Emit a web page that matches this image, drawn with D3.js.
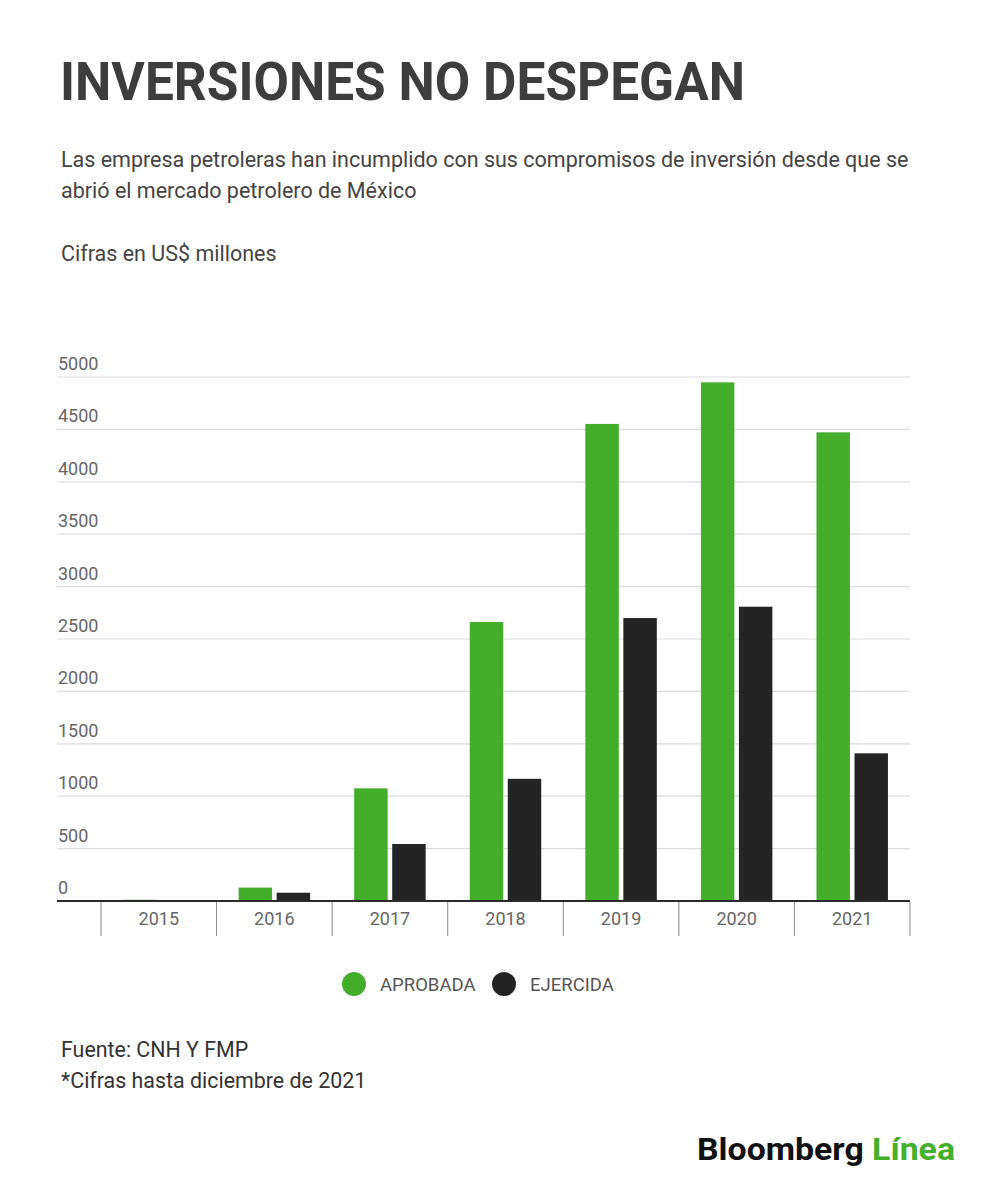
<!DOCTYPE html>
<html lang="es">
    <head>
        <meta charset="utf-8">
        <title>Inversiones no despegan</title>
        <script type="text/javascript" src="https://cdn.jsdelivr.net/npm/d3@7"></script>
        <style type="text/css">
            body { margin: 0; background: #fff; }
            text { font-family: Roboto, "Noto Sans", sans-serif; }
        </style>
    </head>
    <body>
        <script type="text/javascript">

            //data (US$ millones)
            var years = ["2015", "2016", "2017", "2018", "2019", "2020", "2021"];
            var aprobada = [12, 128, 1075, 2662, 4552, 4949, 4472];
            var ejercida = [2, 79, 544, 1166, 2700, 2808, 1409];
            var seriesNames = ["APROBADA", "EJERCIDA"];
            var yTicks = [0, 500, 1000, 1500, 2000, 2500, 3000, 3500, 4000, 4500, 5000];

            var colors = ["#44ad2c", "#242424"];

            var w = 1000;
            var h = 1194;

            var svg = d3.select("body")
                .append("svg")
                .attr("width", w)
                .attr("height", h);

            svg.append("rect")
                .attr("width", "100%")
                .attr("height", "100%")
                .attr("fill", "white");

            //headline + subtitles
            svg.append("text")
                .attr("x", 60)
                .attr("y", 100)
                .attr("font-size", "53px")
                .attr("font-weight", 700)
                .attr("fill", "#3d3d3d")
                .attr("textLength", 685)
                .attr("lengthAdjust", "spacingAndGlyphs")
                .text("INVERSIONES NO DESPEGAN");

            var sub = ["Las empresa petroleras han incumplido con sus compromisos de inversión desde que se",
                       "abrió el mercado petrolero de México"];
            svg.selectAll("text.sub")
                .data(sub)
                .enter()
                .append("text")
                .attr("class", "sub")
                .attr("x", 61)
                .attr("y", function(d, i) { return 167 + i * 31; })
                .attr("font-size", "21.5px")
                .attr("fill", "#444")
                .text(function(d) { return d; });

            svg.append("text")
                .attr("x", 61)
                .attr("y", 261)
                .attr("font-size", "21.5px")
                .attr("fill", "#444")
                .text("Cifras en US$ millones");

            //scales
            var left = 57, plotLeft = 101, plotRight = 910;
            var yScale = d3.scaleLinear()
                .domain([0, 5000])
                .range([901, 377]);

            var xScale = d3.scaleBand()
                .domain(years)
                .range([plotLeft, plotRight])
                .padding(0);

            var xInner = d3.scaleBand()
                .domain(seriesNames)
                .range([0, xScale.bandwidth()])
                .paddingInner(0.12)
                .paddingOuter(0.58);

            //gridlines
            svg.selectAll("line.grid")
                .data(yTicks.slice(1))
                .enter()
                .append("line")
                .attr("class", "grid")
                .attr("x1", left)
                .attr("x2", plotRight)
                .attr("y1", function(d) { return yScale(d); })
                .attr("y2", function(d) { return yScale(d); })
                .attr("stroke", "#dcdcdc")
                .attr("stroke-width", 1.2);

            //tick labels sit above their lines
            svg.selectAll("text.ytick")
                .data(yTicks)
                .enter()
                .append("text")
                .attr("class", "ytick")
                .attr("x", 58)
                .attr("y", function(d) { return yScale(d) - 7; })
                .attr("font-size", "18px")
                .attr("fill", "#666")
                .text(function(d) { return d; });

            //bars
            var groups = svg.selectAll("g.year")
                .data(years)
                .enter()
                .append("g")
                .attr("class", "year")
                .attr("transform", function(d) { return "translate(" + xScale(d) + ",0)"; });

            groups.selectAll("rect")
                .data(function(d, i) {
                    return [{s: seriesNames[0], v: aprobada[i]}, {s: seriesNames[1], v: ejercida[i]}];
                })
                .enter()
                .append("rect")
                .attr("x", function(d) { return xInner(d.s); })
                .attr("y", function(d) { return yScale(d.v); })
                .attr("width", xInner.bandwidth())
                .attr("height", function(d) { return yScale(0) - yScale(d.v); })
                .attr("fill", function(d, i) { return colors[i]; });

            //x axis
            var xAxis = svg.append("g")
                .attr("transform", "translate(0," + yScale(0) + ")");

            xAxis.append("line")
                .attr("x1", left)
                .attr("x2", plotRight)
                .attr("stroke", "#2a2a2a")
                .attr("stroke-width", 2);

            var bounds = years.map(function(d) { return xScale(d); }).concat([plotRight]);
            xAxis.selectAll("line.sep")
                .data(bounds)
                .enter()
                .append("line")
                .attr("class", "sep")
                .attr("x1", function(d) { return d; })
                .attr("x2", function(d) { return d; })
                .attr("y1", 1)
                .attr("y2", 35)
                .attr("stroke", "#8a8a8a")
                .attr("stroke-width", 1);

            xAxis.selectAll("text")
                .data(years)
                .enter()
                .append("text")
                .attr("x", function(d) { return xScale(d) + xScale.bandwidth() / 2; })
                .attr("y", 24)
                .attr("text-anchor", "middle")
                .attr("font-size", "18px")
                .attr("fill", "#666")
                .text(function(d) { return d; });

            //legend
            var legendX = [354, 504];
            var legend = svg.selectAll("g.legend")
                .data(seriesNames)
                .enter()
                .append("g")
                .attr("class", "legend")
                .attr("transform", function(d, i) { return "translate(" + legendX[i] + ",984)"; });

            legend.append("circle")
                .attr("r", 12)
                .attr("fill", function(d, i) { return colors[i]; });

            legend.append("text")
                .attr("x", 26)
                .attr("y", 6.5)
                .attr("font-size", "18.5px")
                .attr("fill", "#555")
                .text(function(d) { return d; });

            //footer
            var notes = ["Fuente: CNH Y FMP", "*Cifras hasta diciembre de 2021"];
            svg.selectAll("text.note")
                .data(notes)
                .enter()
                .append("text")
                .attr("class", "note")
                .attr("x", 61)
                .attr("y", function(d, i) { return 1057 + i * 31; })
                .attr("font-size", "21.4px")
                .attr("fill", "#333")
                .text(function(d) { return d; });

            var brand = svg.append("text")
                .attr("x", 697)
                .attr("y", 1160)
                .attr("font-family", "'Liberation Sans', Arial, sans-serif")
                .attr("font-size", "32px")
                .attr("font-weight", 700)
                .attr("textLength", 258)
                .attr("lengthAdjust", "spacingAndGlyphs");
            brand.append("tspan").attr("fill", "#111").text("Bloomberg ");
            brand.append("tspan").attr("fill", "#44b02c").text("Línea");

        </script>
    </body>
</html>
